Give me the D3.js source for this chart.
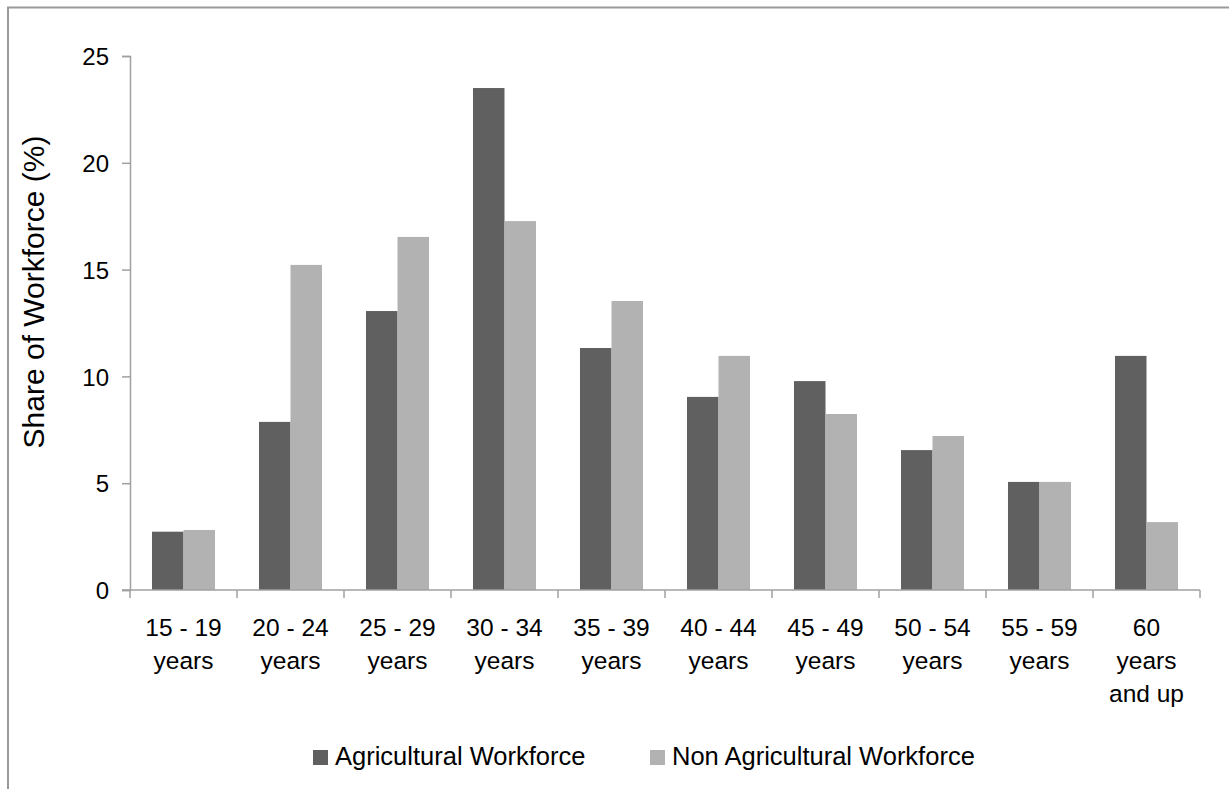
<!DOCTYPE html>
<meta charset="utf-8">
<style>
body { margin: 0; background: #fff; }
text { font-family: "Liberation Sans", Arial, sans-serif; fill: #000; }
</style>
<div id="chart"></div>
<script src="https://d3js.org/d3.v7.min.js"></script>
<script>
// data
var categories = [["15 - 19", "years"], ["20 - 24", "years"], ["25 - 29", "years"], ["30 - 34", "years"],
  ["35 - 39", "years"], ["40 - 44", "years"], ["45 - 49", "years"], ["50 - 54", "years"],
  ["55 - 59", "years"], ["60", "years", "and up"]];
var seriesNames = ["Agricultural Workforce", "Non Agricultural Workforce"];
var agricultural = [2.73, 7.87, 13.06, 23.5, 11.33, 9.04, 9.78, 6.55, 5.06, 10.96];
var nonAgricultural = [2.81, 15.22, 16.53, 17.27, 13.53, 10.96, 8.24, 7.21, 5.06, 3.18];
var yTicks = [0, 5, 10, 15, 20, 25];
var colors = ["#606060", "#b2b2b2"];

var W = 1229, H = 789;
var plotL = 130, plotR = 1200, plotT = 56, plotB = 590;

var svg = d3.select("#chart").append("svg")
    .attr("width", W).attr("height", H);
svg.append("rect").attr("width", W).attr("height", H).attr("fill", "#fff");

// outer frame (left and top only)
svg.append("path")
    .attr("d", "M8," + H + "V7.5H" + W)
    .attr("fill", "none").attr("stroke", "#9a9a9a").attr("stroke-width", 2);

var keys = categories.map(function(c) { return c.join(" "); });
var pad = 0.411;
var x0 = d3.scaleBand().domain(keys).range([plotL, plotR]).paddingInner(pad).paddingOuter(pad / 2);
var x1 = d3.scaleBand().domain(seriesNames).range([0, x0.bandwidth()]);
var y = d3.scaleLinear().domain([0, 25]).range([plotB, plotT]);

var rows = keys.map(function(k, i) {
  return {key: k, values: [agricultural[i], nonAgricultural[i]]};
});

// bars
var g = svg.selectAll(".grp").data(rows).enter().append("g")
    .attr("transform", function(d) { return "translate(" + x0(d.key) + ",0)"; });
g.selectAll("rect").data(function(d) {
    return d.values.map(function(v, j) { return {name: seriesNames[j], v: v, j: j}; });
  }).enter().append("rect")
    .attr("x", function(d) { return x1(d.name); })
    .attr("y", function(d) { return y(d.v); })
    .attr("width", x1.bandwidth())
    .attr("height", function(d) { return y(0) - y(d.v); })
    .attr("fill", function(d) { return colors[d.j]; });

// y axis
var ya = svg.append("g")
    .attr("transform", "translate(" + plotL + ",0)")
    .call(d3.axisLeft(y).tickValues(yTicks).tickSize(8).tickPadding(13));
ya.select(".domain").attr("stroke", "#a0a0a0").attr("stroke-width", 1.5);
ya.selectAll(".tick line").attr("stroke", "#a0a0a0").attr("stroke-width", 1.5);
ya.selectAll(".tick text").attr("font-size", 24).attr("dy", "0.36em")
    .style("font-family", "Liberation Sans, Arial, sans-serif").attr("fill", "#000");

// x axis line + boundary ticks
svg.append("line")
    .attr("x1", plotL - 8).attr("x2", plotR)
    .attr("y1", y(0)).attr("y2", y(0))
    .attr("stroke", "#a0a0a0").attr("stroke-width", 1.5);
var step = x0.step();
svg.selectAll(".xtick").data(d3.range(keys.length + 1)).enter().append("line")
    .attr("x1", function(i) { return plotL + i * step; })
    .attr("x2", function(i) { return plotL + i * step; })
    .attr("y1", y(0)).attr("y2", y(0) + 8)
    .attr("stroke", "#a0a0a0").attr("stroke-width", 1.5);

// category labels
var lab = svg.selectAll(".xlab").data(rows).enter().append("text")
    .attr("text-anchor", "middle")
    .attr("font-size", 24.5)
    .attr("x", function(d) { return x0(d.key) + x0.bandwidth() / 2; })
    .attr("y", 636);
lab.selectAll("tspan").data(function(d, i) { return categories[i]; }).enter().append("tspan")
    .attr("x", function() { return d3.select(this.parentNode).attr("x"); })
    .attr("dy", function(t, i) { return i === 0 ? 0 : 33; })
    .text(function(t) { return t; });

// y title
svg.append("text")
    .attr("transform", "translate(44,292) rotate(-90)")
    .attr("text-anchor", "middle")
    .attr("font-size", 30)
    .text("Share of Workforce (%)");

// legend
var legX = [313, 650];
var leg = svg.selectAll(".leg").data(seriesNames).enter().append("g")
    .attr("transform", function(d, i) { return "translate(" + legX[i] + ",750)"; });
leg.append("rect").attr("width", 15).attr("height", 15)
    .attr("fill", function(d, i) { return colors[i]; });
leg.append("text")
    .attr("x", 22).attr("y", 15)
    .attr("font-size", 25.5)
    .text(function(d) { return d; });
</script>
